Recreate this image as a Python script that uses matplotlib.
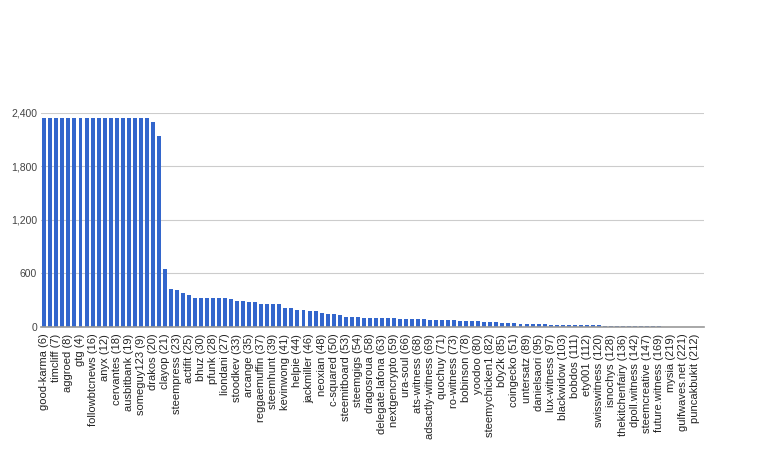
import matplotlib
matplotlib.use("Agg")
import matplotlib.pyplot as plt

labels = ["good-karma (6)", "timcliff (7)", "aggroed (8)", "gtg (4)", "followbtcnews (16)",
          "anyx (12)", "cervantes (18)", "ausbitbank (19)", "someguy123 (9)", "drakos (20)",
          "clayop (21)", "steempress (23)", "actifit (25)", "bhuz (30)", "pfunk (28)",
          "liondani (27)", "stoodkev (33)", "arcange (35)", "reggaemuffin (37)", "steemhunt (39)",
          "kevinwong (41)", "helpie (44)", "jackmiller (46)", "neoxian (48)", "c-squared (50)",
          "steemitboard (53)", "steemgigs (54)", "dragosroua (58)", "delegate.lafona (63)",
          "nextgencrypto (59)", "ura-soul (66)", "ats-witness (68)", "adsactly-witness (69)",
          "quochuy (71)", "ro-witness (73)", "bobinson (78)", "yoodoo (80)", "steemychicken1 (82)",
          "b0y2k (85)", "coingecko (51)", "untersatz (89)", "danielsaori (95)", "lux-witness (97)",
          "blackwidow (103)", "bobdos (111)", "ety001 (112)", "swisswitness (120)",
          "isnochys (128)", "thekitchenfairy (136)", "dpoll.witness (142)", "steemcreative (147)",
          "future.witness (169)", "mysia (219)", "gulfwaves.net (221)", "puncakbukit (212)"]

values = [2340, 2340, 2340, 2340, 2340, 2340, 2340, 2340, 2340, 2340,
          2340, 2340, 2340, 2340, 2340, 2340, 2340, 2340, 2300, 2140,
          645, 420, 412, 374, 352, 322, 322, 322, 322, 322,
          320, 310, 288, 288, 280, 273, 258, 258, 258, 258,
          213, 206, 187, 187, 172, 172, 150, 148, 139, 131,
          109, 109, 109, 101, 94, 94, 94, 94, 94, 90,
          86, 86, 84, 82, 80, 78, 76, 72, 70, 68,
          66, 62, 60, 58, 54, 50, 46, 44, 40, 36,
          34, 30, 28, 25, 24, 22, 20, 19, 18, 17,
          16, 15, 14, 13, 12, 11, 10, 9, 8, 5,
          4, 3, 3, 2, 2, 1, 1, 1, 1, 0]

yticks = [0, 600, 1200, 1800, 2400]
ytick_labels = ["0", "600", "1,200", "1,800", "2,400"]

plt.rcParams['font.family'] = ['Liberation Sans', 'DejaVu Sans']

fig = plt.figure(figsize=(7.68, 4.61), dpi=100)
ax = fig.add_axes([0.0538, 0.2913, 0.8633, 0.4642])

x = list(range(len(values)))
ax.bar(x, values, width=0.66, color="#3366cc", zorder=3)

ax.set_xlim(-0.5, len(values) - 0.5)
ax.set_ylim(0, 2400)
ax.set_yticks(yticks)
ax.set_yticklabels(ytick_labels, fontsize=7.5, color="#444444")
ax.set_xticks(x[::2])
ax.set_xticklabels(labels, rotation=90, fontsize=8, color="#222222")
ax.tick_params(axis='both', length=0)
ax.tick_params(axis='x', pad=5)
ax.tick_params(axis='y', pad=3)

ax.grid(axis='y', color="#cccccc", linewidth=0.8, zorder=0)
for s in ["top", "right", "left"]:
    ax.spines[s].set_visible(False)
ax.spines["bottom"].set_color("#999999")
ax.spines["bottom"].set_linewidth(1.2)
ax.spines["bottom"].set_zorder(4)

fig.savefig("out.png", dpi=100)
